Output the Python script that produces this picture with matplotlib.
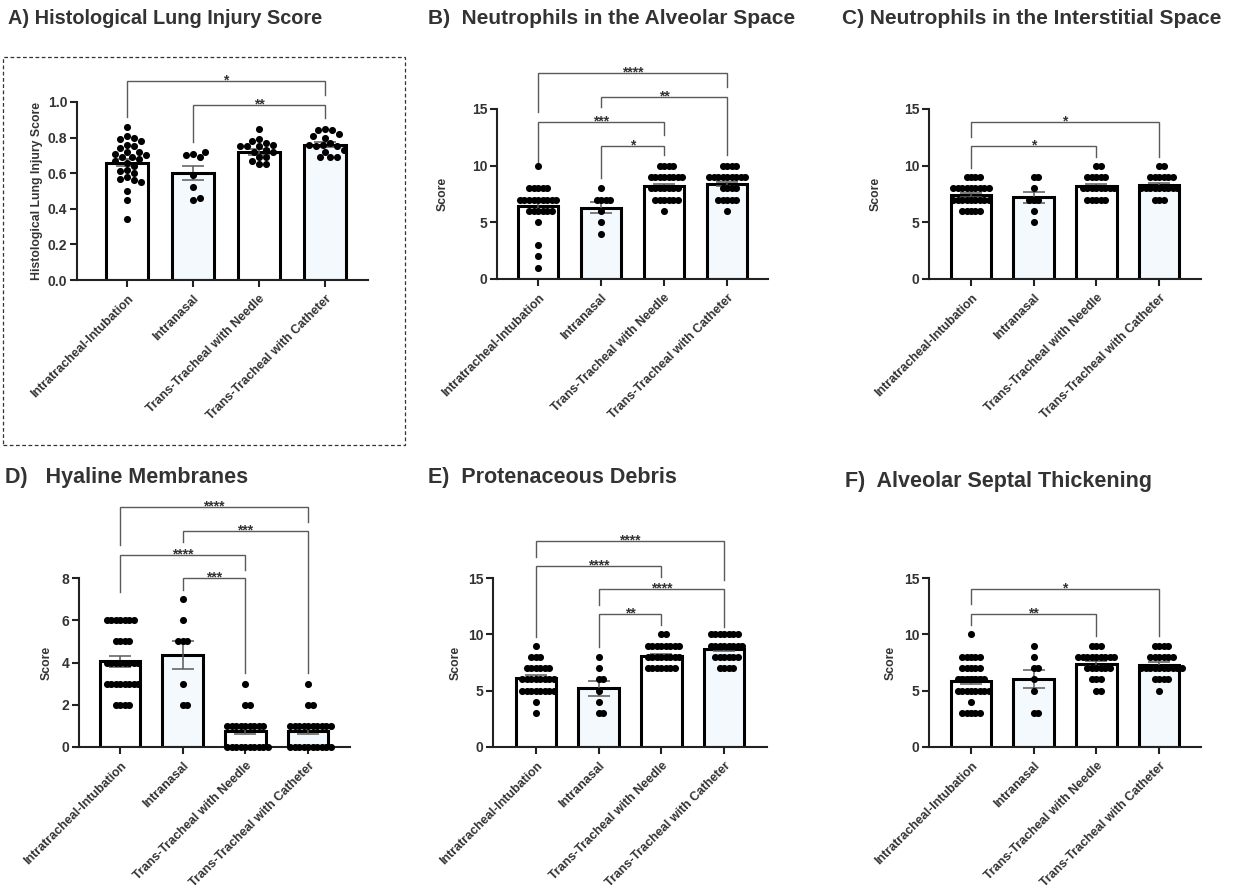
import numpy as np
import matplotlib
matplotlib.use("Agg")
import matplotlib.pyplot as plt
from matplotlib.patches import Rectangle

plt.rcParams['font.family'] = ['Liberation Sans', 'DejaVu Sans']
plt.rcParams['font.weight'] = 'bold'
plt.rcParams['axes.labelweight'] = 'bold'

groups = ["Intratracheal-Intubation", "Intranasal",
          "Trans-Tracheal with Needle", "Trans-Tracheal with Catheter"]

# A) histological lung injury score (continuous values)
A_pts = [
    [0.86, 0.81, 0.80, 0.79, 0.78, 0.76, 0.75, 0.74, 0.72, 0.72, 0.71, 0.70,
     0.69, 0.69, 0.68, 0.67, 0.66, 0.64, 0.62, 0.61, 0.60, 0.58, 0.57, 0.56,
     0.55, 0.50, 0.45, 0.34],
    [0.71, 0.69, 0.70, 0.72, 0.59, 0.52, 0.45, 0.46],
    [0.85, 0.79, 0.77, 0.78, 0.76, 0.75, 0.75, 0.75, 0.73, 0.72, 0.72, 0.69,
     0.69, 0.67, 0.65, 0.65],
    [0.85, 0.84, 0.84, 0.82, 0.80, 0.81, 0.77, 0.76, 0.75, 0.75, 0.76, 0.72,
     0.73, 0.69, 0.69, 0.69],
]
A_mean = [0.66, 0.60, 0.72, 0.76]
A_sem = [0.022, 0.04, 0.015, 0.015]

# B-F) integer scores: score levels and how many animals sit on each
B_levels = [[10, 8, 7, 6, 5, 3, 2, 1], [8, 7, 6, 5, 4], [10, 9, 8, 7, 6], [10, 9, 8, 7, 6]]
B_counts = [[1, 5, 9, 6, 1, 1, 1, 1], [1, 4, 1, 1, 1], [4, 8, 7, 6, 1], [4, 9, 4, 5, 1]]
B_mean = [6.4, 6.3, 8.2, 8.4]
B_sem = [0.4, 0.45, 0.2, 0.2]

C_levels = [[9, 8, 7, 6], [9, 8, 7, 6, 5], [10, 9, 8, 7], [10, 9, 8, 7]]
C_counts = [[4, 9, 9, 5], [2, 1, 3, 1, 1], [2, 5, 8, 5], [2, 6, 9, 3]]
C_mean = [7.4, 7.2, 8.2, 8.3]
C_sem = [0.2, 0.5, 0.2, 0.2]

D_levels = [[6, 5, 4, 3, 2], [7, 6, 5, 3, 2], [3, 2, 1, 0], [3, 2, 1, 0]]
D_counts = [[7, 4, 8, 8, 4], [1, 1, 3, 1, 2], [1, 2, 9, 10], [1, 2, 10, 10]]
D_mean = [4.05, 4.35, 0.75, 0.75]
D_sem = [0.25, 0.65, 0.15, 0.15]

E_levels = [[9, 8, 7, 6, 5, 4, 3], [8, 7, 6, 5, 4, 3], [10, 9, 8, 7], [10, 9, 8, 7]]
E_counts = [[1, 3, 6, 8, 8, 1, 1], [1, 1, 2, 1, 1, 2], [2, 8, 8, 7], [7, 8, 6, 4]]
E_mean = [6.1, 5.2, 8.1, 8.7]
E_sem = [0.25, 0.65, 0.17, 0.17]

F_levels = [[10, 8, 7, 6, 5, 4, 3], [9, 8, 7, 6, 5, 3], [9, 8, 7, 6, 5], [9, 8, 7, 6, 5]]
F_counts = [[1, 5, 5, 7, 8, 1, 5], [1, 1, 2, 1, 1, 2], [3, 9, 6, 3, 2], [4, 6, 10, 4, 1]]
F_mean = [5.9, 6.0, 7.4, 7.3]
F_sem = [0.3, 0.8, 0.25, 0.25]

# significance brackets: (group i, group j, bar height, leg end i, leg end j, label)
sig_A = [(0, 3, 1.118, 0.916, 1.04, "*"), (1, 3, 0.983, 0.775, 0.91, "**")]
sig_B = [(0, 3, 18.18, 14.7, 16.9, "****"), (1, 3, 16.06, 15.2, 10.9, "**"),
         (0, 2, 13.86, 10.3, 12.7, "***"), (1, 2, 11.7, 8.9, 10.9, "*")]
sig_C = [(0, 3, 13.86, 12.53, 10.77, "*"), (0, 2, 11.74, 9.8, 10.77, "*")]
sig_D = [(0, 3, 11.37, 9.57, 10.66, "****"), (1, 3, 10.24, 9.72, 3.5, "***"),
         (0, 2, 9.1, 7.35, 8.39, "****"), (1, 2, 8.0, 7.44, 3.5, "***")]
sig_E = [(0, 3, 18.28, 16.86, 14.82, "****"), (0, 2, 16.06, 9.76, 15.08, "****"),
         (1, 3, 14.02, 12.6, 10.65, "****"), (1, 2, 11.8, 8.87, 10.83, "**")]
sig_F = [(0, 3, 14.02, 12.69, 9.85, "*"), (0, 2, 11.8, 10.83, 9.85, "**")]

W, H = 1234, 890
fig = plt.figure(figsize=(W / 100, H / 100), dpi=100)
fig.patch.set_facecolor('white')

TXT = '#333333'
LINE = '#5a5a5a'
FILLS = ['white', '#f3f9fc', 'white', '#f3f9fc']


def px_axes(xl, xr, yt, yb):
    return fig.add_axes([xl / W, 1 - yb / H, (xr - xl) / W, (yb - yt) / H])


def swarm_x(ax, xc, vals, gap, step):
    tr = ax.transData
    inv = tr.inverted()
    placed = []
    xs = []
    cands = [0.0]
    for k in range(1, 80):
        cands += [k * step, -k * step]
    for v in vals:
        px, py = tr.transform((xc, v))
        for off in cands:
            if all((px + off - qx) ** 2 + (py - qy) ** 2 >= gap ** 2 - 1e-6 for qx, qy in placed):
                break
        placed.append((px + off, py))
        xs.append(inv.transform((px + off, py))[0])
    return xs


def panel(box, c0, sp, ymax, yticks, fmt, pts, means, sems, sig, ylabel, ylab_x,
          gap, step, title, title_xy, title_size):
    xl, xr, yt, yb = box
    ax = px_axes(xl, xr, yt, yb)
    ax.set_xlim((xl - c0) / sp, (xr - c0) / sp)
    ax.set_ylim(0, ymax)
    ax.patch.set_alpha(0)
    x = np.arange(len(groups))
    ax.bar(x, means, width=0.65, color=FILLS, edgecolor='black', linewidth=2.2, zorder=1)
    ax.errorbar(x, means, yerr=sems, fmt='none', ecolor=LINE, elinewidth=1.1,
                capsize=8, capthick=1.1, zorder=2)
    for i, vals in enumerate(pts):
        xs = swarm_x(ax, i, vals, gap, step)
        ax.scatter(xs, vals, s=26, color='black', linewidths=0, zorder=3, clip_on=False)
    for i, j, y, yi, yj, lab in sig:
        ax.plot([i, i, j, j], [yi, y, y, yj], color=LINE, lw=1.0, clip_on=False,
                solid_joinstyle='miter')
        ax.annotate(lab, xy=((i + j) / 2, y), xytext=(0, -2.5), textcoords='offset points',
                    ha='center', va='baseline', fontsize=10, color=TXT,
                    annotation_clip=False)
    for s in ['top', 'right']:
        ax.spines[s].set_visible(False)
    for s in ['left', 'bottom']:
        ax.spines[s].set_linewidth(1.5)
        ax.spines[s].set_color('#222222')
    ax.set_yticks(yticks)
    ax.set_yticklabels([fmt.format(t) for t in yticks], fontsize=10, color=TXT)
    ax.set_xticks(x)
    ax.set_xticklabels(groups, rotation=45, ha='right', rotation_mode='anchor',
                       fontsize=9, color=TXT)
    ax.tick_params(axis='both', direction='out', length=5, width=1.5, color='#222222')
    ax.tick_params(axis='x', pad=4)
    ax.tick_params(axis='y', pad=2)
    ax.set_ylabel(ylabel, fontsize=8.8, color=TXT, va='center')
    ax.yaxis.set_label_coords((ylab_x - xl) / (xr - xl), 0.5)
    fig.text(title_xy[0] / W, 1 - title_xy[1] / H, title, fontsize=title_size,
             color=TXT, ha='left', va='center')
    return ax


def expand(levels, counts):
    return [list(np.repeat(l, c)) for l, c in zip(levels, counts)]


panel((77, 368, 102, 280), 127, 66, 1.0, [0, 0.2, 0.4, 0.6, 0.8, 1.0], "{:.1f}",
      A_pts, A_mean, A_sem, sig_A, "Histological Lung Injury Score", 37,
      7.0, 1.0, "A) Histological Lung Injury Score", (8, 18), 14.3)
panel((497, 768, 109, 279), 538, 63, 15, [0, 5, 10, 15], "{:g}",
      expand(B_levels, B_counts), B_mean, B_sem, sig_B, "Score", 443,
      4.5, 4.5, "B)  Neutrophils in the Alveolar Space", (428, 18), 15)
panel((929, 1201, 109, 279), 971, 62.7, 15, [0, 5, 10, 15], "{:g}",
      expand(C_levels, C_counts), C_mean, C_sem, sig_C, "Score", 876,
      4.5, 4.5, "C) Neutrophils in the Interstitial Space", (842, 18), 15)
panel((79, 350, 578, 747), 120, 62.7, 8, [0, 2, 4, 6, 8], "{:g}",
      expand(D_levels, D_counts), D_mean, D_sem, sig_D, "Score", 47,
      4.5, 4.5, "D)   Hyaline Membranes", (5, 478), 15.5)
panel((493, 767, 578, 747), 536, 62.7, 15, [0, 5, 10, 15], "{:g}",
      expand(E_levels, E_counts), E_mean, E_sem, sig_E, "Score", 456,
      4.5, 4.5, "E)  Protenaceous Debris", (428, 478), 15.5)
panel((929, 1201, 578, 747), 971, 62.7, 15, [0, 5, 10, 15], "{:g}",
      expand(F_levels, F_counts), F_mean, F_sem, sig_F, "Score", 891,
      4.5, 4.5, "F)  Alveolar Septal Thickening", (845, 481), 15.5)

# dashed frame around panel A
fig.patches.append(Rectangle((3 / W, 1 - 445 / H), 402 / W, 388 / H, transform=fig.transFigure,
                             fill=False, edgecolor='#333333', linestyle=(0, (3, 2)), lw=0.9))

fig.savefig("out.png", dpi=100)
